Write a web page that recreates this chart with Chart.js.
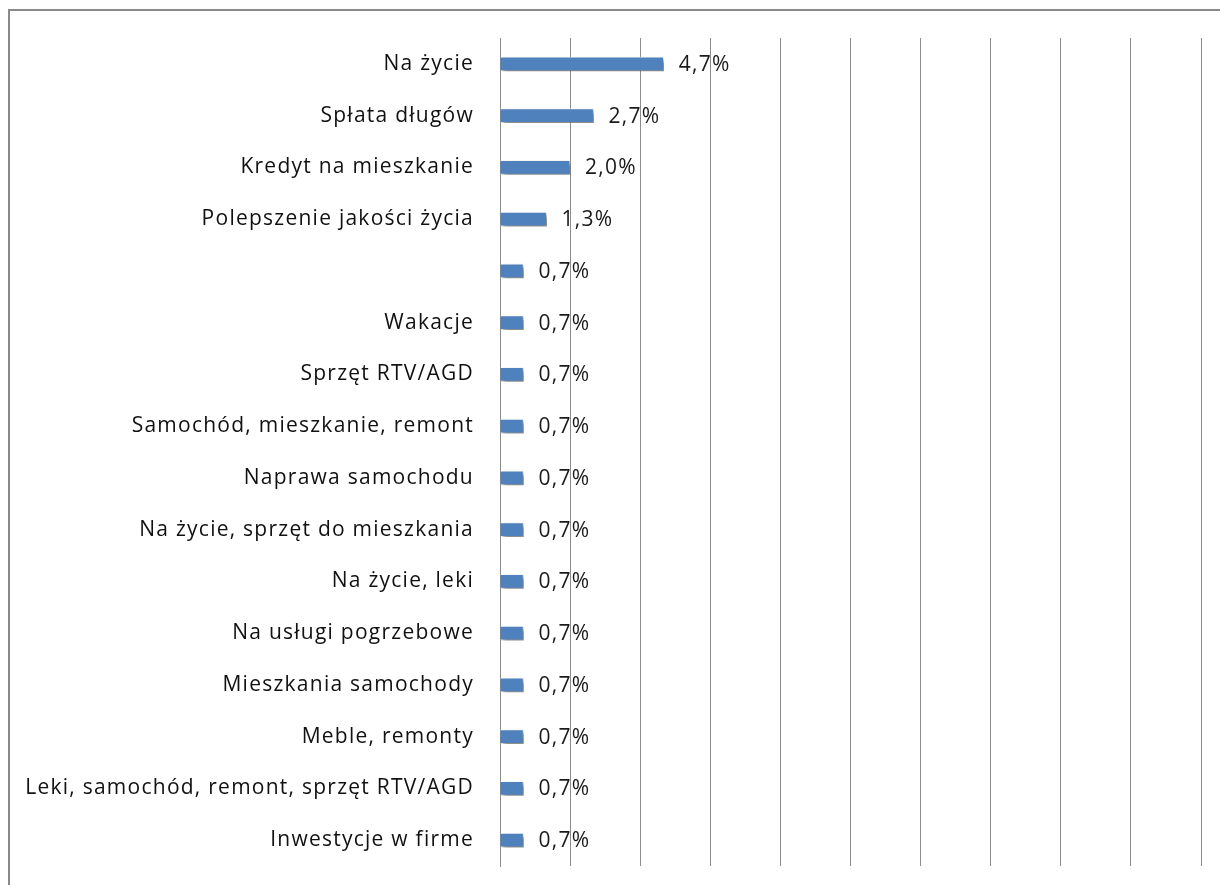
<!DOCTYPE html>
<html><head><meta charset="utf-8">
<script src="https://cdn.jsdelivr.net/npm/chart.js@4.4.1/dist/chart.umd.min.js"></script>
<style>html,body{margin:0;padding:0;background:#fff;overflow:hidden}#wrap{width:1220px;height:885px;position:relative}</style>
</head><body><div id="wrap"><canvas id="c" width="1220" height="885"></canvas></div>
<script>
const categories = [
  "Na życie",
  "Spłata długów",
  "Kredyt na mieszkanie",
  "Polepszenie jakości życia",
  "",
  "Wakacje",
  "Sprzęt RTV/AGD",
  "Samochód, mieszkanie, remont",
  "Naprawa samochodu",
  "Na życie, sprzęt do mieszkania",
  "Na życie, leki",
  "Na usługi pogrzebowe",
  "Mieszkania samochody",
  "Meble, remonty",
  "Leki, samochód, remont, sprzęt RTV/AGD",
  "Inwestycje w firme"
];
const values = [4.67, 2.67, 2.0, 1.33, 0.67, 0.67, 0.67, 0.67, 0.67, 0.67, 0.67, 0.67, 0.67, 0.67, 0.67, 0.67];
const valueLabels = ["4,7%", "2,7%", "2,0%", "1,3%", "0,7%", "0,7%", "0,7%", "0,7%", "0,7%", "0,7%", "0,7%", "0,7%", "0,7%", "0,7%", "0,7%", "0,7%"];
const axisMin = 0, axisMax = 20, axisStep = 2;

const FONT = "'Open Sans', 'DejaVu Sans', sans-serif";
const SPACING = '1.25px';

const framePlugin = {
  id: 'frame',
  beforeDraw(chart) {
    const ctx = chart.ctx;
    ctx.save();
    ctx.fillStyle = '#fff';
    ctx.fillRect(0, 0, chart.width, chart.height);
    ctx.strokeStyle = '#8a8a8a';
    ctx.lineWidth = 2;
    ctx.strokeRect(9, 10, 1400, 1000);
    ctx.restore();
    ctx.letterSpacing = SPACING;
  },
  beforeLayout(chart) { chart.ctx.letterSpacing = SPACING; }
};
const shadowPlugin = {
  id: 'barShadow',
  beforeDatasetDraw(chart) {
    const ctx = chart.ctx;
    ctx.save();
    ctx.shadowColor = 'rgba(0,0,0,0.5)';
    ctx.shadowBlur = 4;
    ctx.shadowOffsetX = 3;
    ctx.shadowOffsetY = 3;
  },
  afterDatasetDraw(chart) { chart.ctx.restore(); }
};
const labelPlugin = {
  id: 'valLabels',
  afterDatasetsDraw(chart) {
    const ctx = chart.ctx;
    const meta = chart.getDatasetMeta(0);
    ctx.save();
    ctx.letterSpacing = SPACING;
    ctx.font = '21px ' + FONT;
    ctx.fillStyle = '#1a1a1a';
    ctx.textBaseline = 'middle';
    ctx.textAlign = 'left';
    meta.data.forEach((bar, i) => {
      ctx.fillText(valueLabels[i], bar.x + 15, bar.y + 1);
    });
    ctx.restore();
  }
};

new Chart(document.getElementById('c'), {
  type: 'bar',
  data: {
    labels: categories,
    datasets: [{
      data: values,
      backgroundColor: '#4f81bd',
      borderColor: 'rgba(255,255,255,0.7)',
      borderWidth: 1,
      barThickness: 14
    }]
  },
  options: {
    indexAxis: 'y',
    responsive: false,
    animation: false,
    layout: { padding: { left: 0, top: 38, right: 19, bottom: 19 } },
    plugins: { legend: { display: false }, tooltip: { enabled: false } },
    scales: {
      x: {
        min: axisMin, max: axisMax,
        ticks: { display: false, stepSize: axisStep },
        grid: { color: '#8c8c8c', lineWidth: 1, drawTicks: false },
        border: { display: false },
        afterFit(s) { s.height = 0; s.paddingLeft = 0; s.paddingRight = 0; }
      },
      y: {
        ticks: { color: '#111', font: { family: FONT, size: 21 }, padding: 26 },
        grid: { display: false, drawTicks: false },
        border: { display: true, color: '#8c8c8c', width: 1 },
        afterFit(s) { s.width = 500; s.paddingTop = 0; s.paddingBottom = 0; }
      }
    }
  },
  plugins: [framePlugin, shadowPlugin, labelPlugin]
});
</script></body></html>
